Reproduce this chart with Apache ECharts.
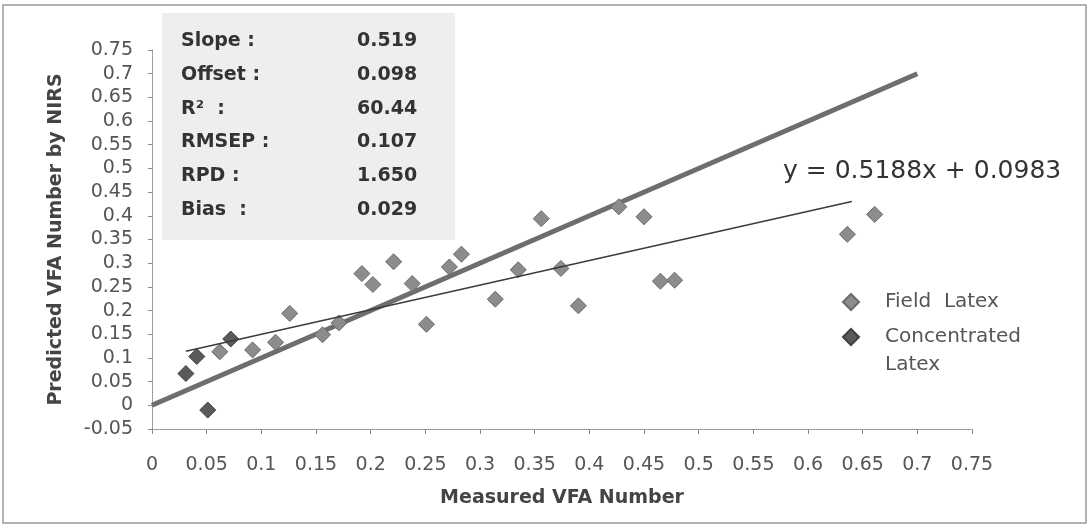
<!DOCTYPE html>
<html><head><meta charset="utf-8">
<script src="https://cdn.jsdelivr.net/npm/echarts@6/dist/echarts.min.js"></script>
<style>html,body{margin:0;padding:0;background:#fff}#c{width:1088px;height:525px}</style>
</head><body><div id="c"></div>
<script>
// ---- data ----
const fieldX = [0.062,0.092,0.113,0.126,0.156,0.171,0.192,0.202,0.221,0.238,0.251,0.272,0.283,0.314,0.335,0.356,0.374,0.390,0.427,0.450,0.465,0.478,0.636,0.661];
const fieldY = [0.113,0.117,0.133,0.194,0.149,0.174,0.278,0.255,0.303,0.257,0.171,0.292,0.319,0.224,0.286,0.394,0.289,0.210,0.419,0.398,0.262,0.264,0.361,0.403];
const concX = [0.031,0.041,0.051,0.072];
const concY = [0.067,0.103,-0.010,0.140];
const trendX = [0.031,0.640];
const trendY = [0.114,0.430];
const idealX = [0,0.7];
const idealY = [0,0.7];
const statLabels = ['Slope :','Offset :','R\u00B2  :','RMSEP :','RPD :','Bias  :'];
const statValues = ['0.519','0.098','60.44','0.107','1.650','0.029'];
const equationText = 'y = 0.5188x + 0.0983';
const seriesNames = ['Field  Latex','Concentrated Latex'];
const xTitle = 'Measured VFA Number';
const yTitle = 'Predicted VFA Number by NIRS';

const FF = "'DejaVu Sans', sans-serif";
const zip = (a,b) => a.map((v,i)=>[v,b[i]]);
const fmt = v => String(parseFloat(Number(v).toFixed(2)));

const chart = echarts.init(document.getElementById('c'), null, {renderer:'canvas'});

const graphics = [
  {type:'rect', shape:{x:3,y:5,width:1083,height:518}, style:{fill:'none', stroke:'#999', lineWidth:1.5}, z:0},
  {type:'rect', shape:{x:162,y:13,width:293,height:227}, style:{fill:'#eeeeee'}, z:-1}
];
statLabels.forEach((s,i)=>{
  graphics.push({type:'text', x:181, y:41+i*33.8, style:{text:s, font:"bold 19px "+FF, fill:'#333', verticalAlign:'middle'}, z:1});
  graphics.push({type:'text', x:357, y:41+i*33.8, style:{text:statValues[i], font:"bold 19px "+FF, fill:'#333', verticalAlign:'middle'}, z:1});
});
graphics.push({type:'text', x:783, y:171, style:{text:equationText, font:"25px "+FF, fill:'#333', verticalAlign:'middle'}, z:1});

const legendCommon = {orient:'vertical', left:837, itemWidth:16, itemHeight:16, itemGap:0,
  textStyle:{fontFamily:FF, fontSize:20, lineHeight:28, color:'#555', padding:[0,0,0,21]}};

chart.setOption({
  animation:false,
  backgroundColor:'#fff',
  grid:{left:152, right:116, top:50, bottom:96},
  graphic: graphics,
  legend:[
    Object.assign({}, legendCommon, {data:[seriesNames[0]], top:283}),
    Object.assign({}, legendCommon, {data:[seriesNames[1]], top:290, formatter:()=>'\nConcentrated\nLatex'})
  ],
  xAxis:{type:'value', min:0, max:0.75, interval:0.05,
    name:xTitle, nameLocation:'middle', nameGap:60,
    nameTextStyle:{fontFamily:FF, fontSize:19, fontWeight:'bold', color:'#444'},
    axisLine:{show:true, onZero:false, lineStyle:{color:'#888', type:'dotted', width:1}},
    axisTick:{show:true, length:5, lineStyle:{color:'#888'}},
    axisLabel:{fontFamily:FF, fontSize:19, color:'#555', margin:27, formatter:fmt, showMinLabel:true, showMaxLabel:true},
    splitLine:{show:false}},
  yAxis:{type:'value', min:-0.05, max:0.75, interval:0.05,
    name:yTitle, nameLocation:'middle', nameGap:86, nameRotate:90,
    nameTextStyle:{fontFamily:FF, fontSize:19, fontWeight:'bold', color:'#444'},
    axisLine:{show:true, onZero:false, lineStyle:{color:'#888', type:'dotted', width:1}},
    axisTick:{show:true, length:4, lineStyle:{color:'#888'}},
    axisLabel:{fontFamily:FF, fontSize:19, color:'#555', margin:19, formatter:fmt, showMinLabel:true, showMaxLabel:true},
    splitLine:{show:false}},
  series:[
    {type:'line', data:zip(idealX,idealY), showSymbol:false, silent:true, z:2,
      lineStyle:{color:'#6e6e6e', width:5}},
    {type:'line', data:zip(trendX,trendY), showSymbol:false, silent:true, z:4,
      lineStyle:{color:'#3c3c3c', width:1.5}},
    {name:seriesNames[0], type:'scatter', symbol:'diamond', symbolSize:16, z:3,
      data:zip(fieldX,fieldY), itemStyle:{color:'#8c8c8c', borderColor:'#6a6a6a', borderWidth:1, opacity:1}},
    {name:seriesNames[1], type:'scatter', symbol:'diamond', symbolSize:16, z:3,
      data:zip(concX,concY), itemStyle:{color:'#5a5a5a', borderColor:'#404040', borderWidth:1, opacity:1}}
  ]
});
</script></body></html>
